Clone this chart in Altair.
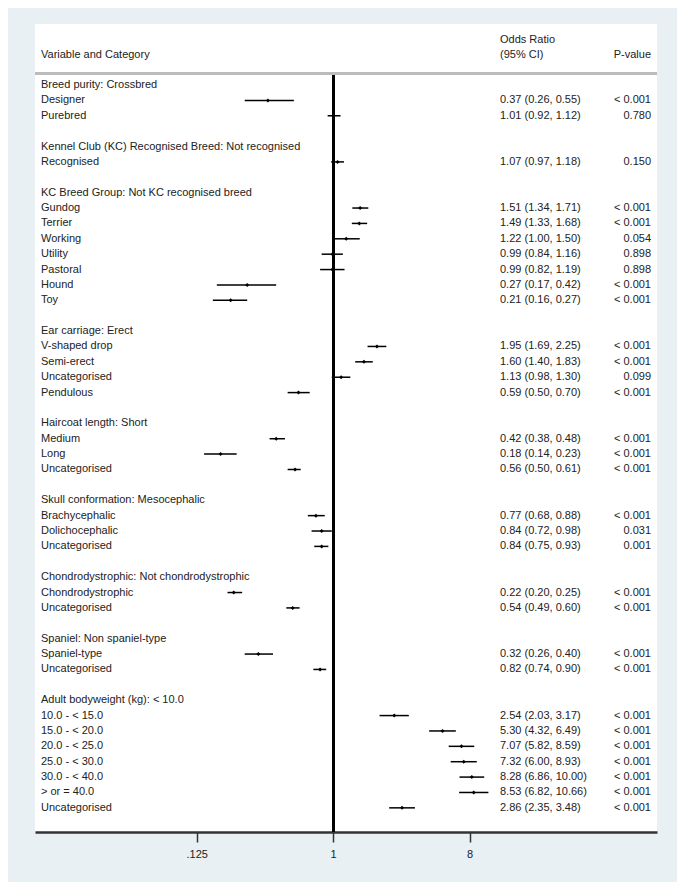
import altair as alt
import pandas as pd

# ---- data ----
labels = [
    "Breed purity: Crossbred", "Designer", "Purebred", "",
    "Kennel Club (KC) Recognised Breed: Not recognised", "Recognised", "",
    "KC Breed Group: Not KC recognised breed", "Gundog", "Terrier", "Working",
    "Utility", "Pastoral", "Hound", "Toy", "",
    "Ear carriage: Erect", "V-shaped drop", "Semi-erect", "Uncategorised", "Pendulous", "",
    "Haircoat length: Short", "Medium", "Long", "Uncategorised", "",
    "Skull conformation: Mesocephalic", "Brachycephalic", "Dolichocephalic", "Uncategorised", "",
    "Chondrodystrophic: Not chondrodystrophic", "Chondrodystrophic", "Uncategorised", "",
    "Spaniel: Non spaniel-type", "Spaniel-type", "Uncategorised", "",
    "Adult bodyweight (kg): < 10.0", "10.0 - < 15.0", "15.0 - < 20.0", "20.0 - < 25.0",
    "25.0 - < 30.0", "30.0 - < 40.0", "> or = 40.0", "Uncategorised",
]
N = None
or_vals = [N, 0.37, 1.01, N, N, 1.07, N, N, 1.51, 1.49, 1.22, 0.99, 0.99, 0.27, 0.21, N,
           N, 1.95, 1.60, 1.13, 0.59, N, N, 0.42, 0.18, 0.56, N, N, 0.77, 0.84, 0.84, N,
           N, 0.22, 0.54, N, N, 0.32, 0.82, N, N, 2.54, 5.30, 7.07, 7.32, 8.28, 8.53, 2.86]
lo_vals = [N, 0.26, 0.92, N, N, 0.97, N, N, 1.34, 1.33, 1.00, 0.84, 0.82, 0.17, 0.16, N,
           N, 1.69, 1.40, 0.98, 0.50, N, N, 0.38, 0.14, 0.50, N, N, 0.68, 0.72, 0.75, N,
           N, 0.20, 0.49, N, N, 0.26, 0.74, N, N, 2.03, 4.32, 5.82, 6.00, 6.86, 6.82, 2.35]
hi_vals = [N, 0.55, 1.12, N, N, 1.18, N, N, 1.71, 1.68, 1.50, 1.16, 1.19, 0.42, 0.27, N,
           N, 2.25, 1.83, 1.30, 0.70, N, N, 0.48, 0.23, 0.61, N, N, 0.88, 0.98, 0.93, N,
           N, 0.25, 0.60, N, N, 0.40, 0.90, N, N, 3.17, 6.49, 8.59, 8.93, 10.00, 10.66, 3.48]
p_vals = ["", "< 0.001", "0.780", "", "", "0.150", "", "", "< 0.001", "< 0.001", "0.054",
          "0.898", "0.898", "< 0.001", "< 0.001", "", "", "< 0.001", "< 0.001", "0.099",
          "< 0.001", "", "", "< 0.001", "< 0.001", "< 0.001", "", "", "< 0.001", "0.031",
          "0.001", "", "", "< 0.001", "< 0.001", "", "", "< 0.001", "< 0.001", "", "",
          "< 0.001", "< 0.001", "< 0.001", "< 0.001", "< 0.001", "< 0.001", "< 0.001"]

header_texts = ["Variable and Category", "Odds Ratio", "(95% CI)", "P-value"]

# ---- build table ----
rows = []
for i, lab in enumerate(labels):
    o, l, h = or_vals[i], lo_vals[i], hi_vals[i]
    ci = f"{o:.2f} ({l:.2f}, {h:.2f})" if o is not None else ""
    rows.append({"row": i, "label": lab, "or": o, "lo": l, "hi": h, "ci": ci, "p": p_vals[i]})
df = pd.DataFrame(rows)
est = df.dropna(subset=["or"])

Y_TOP, Y_BOT = -3.966, 48.57
HDR_RULE = -0.75
W, H = 622, 808
FONT = "Liberation Sans"
TXT = "#222222"
COL_LAB, COL_CI, COL_P = 6, 465, 616

yscale = alt.Scale(domain=[Y_TOP, Y_BOT], reverse=True, nice=False, zero=False)
xscale = alt.Scale(type="log", base=2, domain=[0.01064, 139.2], nice=False)

base = alt.Chart(df)

ci = alt.Chart(est).mark_rule(color="black", strokeWidth=1.5).encode(
    x=alt.X("lo:Q", scale=xscale,
            axis=alt.Axis(values=[0.125, 1, 8], title=None, grid=False,
                          labelExpr="datum.value == 0.125 ? '.125' : datum.label",
                          domainColor="#333333", domainWidth=2.5,
                          tickColor="#333333", tickWidth=1.5, tickSize=10,
                          labelColor=TXT, labelFontSize=11, labelFont=FONT,
                          labelPadding=6)),
    x2="hi:Q",
    y=alt.Y("row:Q", scale=yscale, axis=None),
)
pts = alt.Chart(est).mark_point(shape="diamond", filled=True, size=16, color="black", opacity=1).encode(
    x=alt.X("or:Q"), y=alt.Y("row:Q"),
)

ref = alt.Chart(df).mark_rule(color="black", strokeWidth=2).encode(
    x=alt.X(datum=1), y=alt.Y(datum=HDR_RULE), y2=alt.Y2(datum=Y_BOT),
)
hdr_rule = alt.Chart(df).mark_rule(color="#bbbbbb", strokeWidth=1.5).encode(
    x=alt.value(0), x2=alt.value(W), y=alt.Y(datum=HDR_RULE),
)

txt_kw = dict(font=FONT, fontSize=11, color=TXT, baseline="middle")
lab_txt = base.mark_text(align="left", **txt_kw).encode(
    x=alt.value(COL_LAB), y=alt.Y("row:Q"), text="label:N")
ci_txt = base.mark_text(align="left", **txt_kw).encode(
    x=alt.value(COL_CI), y=alt.Y("row:Q"), text="ci:N")
p_txt = base.mark_text(align="right", **txt_kw).encode(
    x=alt.value(COL_P), y=alt.Y("row:Q"), text="p:N")

hdr_df = pd.DataFrame({
    "text": header_texts,
    "row": [-1.95, -2.9, -1.95, -1.95],
    "col": ["l", "c", "c", "r"],
})
h1 = alt.Chart(hdr_df).transform_filter("datum.col == 'l'").mark_text(align="left", **txt_kw).encode(
    x=alt.value(COL_LAB), y=alt.Y("row:Q"), text="text:N")
h2 = alt.Chart(hdr_df).transform_filter("datum.col == 'c'").mark_text(align="left", **txt_kw).encode(
    x=alt.value(COL_CI), y=alt.Y("row:Q"), text="text:N")
h3 = alt.Chart(hdr_df).transform_filter("datum.col == 'r'").mark_text(align="right", **txt_kw).encode(
    x=alt.value(COL_P), y=alt.Y("row:Q"), text="text:N")

chart = alt.layer(ci, pts, ref, hdr_rule, lab_txt, ci_txt, p_txt, h1, h2, h3).properties(
    width=W, height=H,
    background="#e8f0f3",
    padding={"left": 27, "top": 16, "right": 20, "bottom": 50},
    autosize=alt.AutoSizeParams(type="none"),
).configure_view(fill="white", stroke=None)

chart.save("out.html", embed_options={"renderer": "svg", "actions": False})
